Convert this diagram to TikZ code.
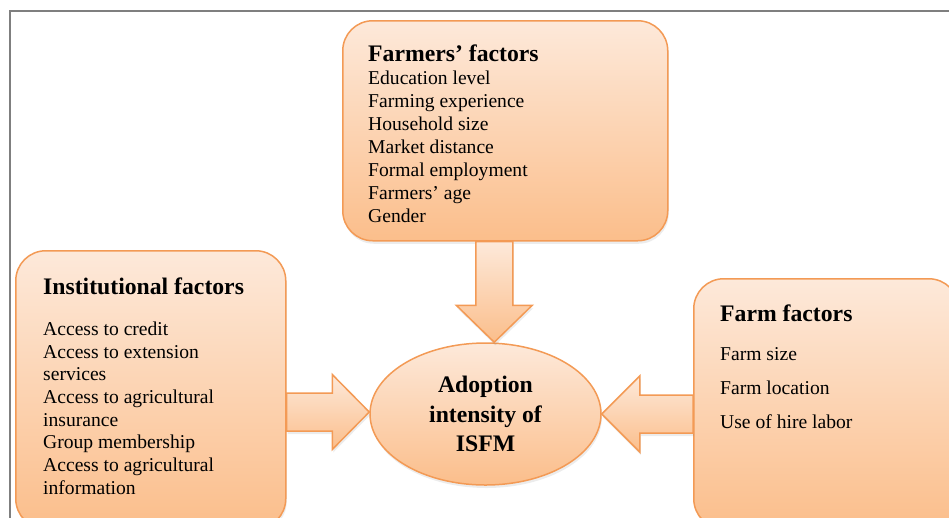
\documentclass[tikz,border=0pt]{standalone}
\usepackage{fontspec}
\setmainfont{Liberation Serif}
\usetikzlibrary{shapes.geometric,calc,shadows}

\definecolor{boxedge}{HTML}{F39A55}
\definecolor{boxtop}{HTML}{FDE9DA}
\definecolor{boxbottom}{HTML}{FBBE8B}
\definecolor{framegray}{HTML}{7F7F7F}

\newcommand{\boxtitle}[1]{{\bfseries\fontsize{23.7}{23}\selectfont #1}}

\begin{document}
\begin{tikzpicture}[x=1pt,y=-1pt,
  softshadow/.style={drop shadow={shadow xshift=1pt,shadow yshift=-3pt,opacity=0.15}},
  factorbox/.style={draw=boxedge,line width=1.5pt,rounded corners=30pt,top color=boxtop,bottom color=boxbottom,anchor=north west,inner sep=0pt,softshadow},
  listtext/.style={anchor=north west,align=left,inner sep=0pt,font=\fontsize{19.6}{23}\selectfont},
  blockarrow/.style={draw=boxedge,line width=1.5pt,line join=miter,top color=boxtop,bottom color=boxbottom,softshadow}]
\useasboundingbox (0,0) rectangle (949,517);

% Outer frame
\draw[framegray,line width=1.5pt] (10,540) -- (10,11) -- (960,11);

% Factor boxes
\node[factorbox,minimum width=325pt,minimum height=220pt] (farmers) at (342,20) {};
\node[factorbox,minimum width=270pt,minimum height=278pt] (inst) at (15,250) {};
\node[factorbox,minimum width=265pt,minimum height=250pt] (farm) at (693,278) {};

% Outcome
\node[ellipse,draw=boxedge,line width=1.5pt,top color=boxtop,bottom color=boxbottom,softshadow,
  minimum width=231pt,minimum height=142pt,align=center,
  font=\bfseries\fontsize{23.7}{29.3}\selectfont] (isfm) at (485.5,414) {Adoption\\intensity of\\ISFM};

% Box texts
\node[listtext] (farmerslist) at ($(farmers.north west)+(26,24.3)$) {\boxtitle{Farmers' factors}\\
  Education level\\Farming experience\\Household size\\Market distance\\Formal employment\\Farmers' age\\Gender};
\node[listtext,font=\fontsize{19.6}{22.7}\selectfont] (instlist) at ($(inst.north west)+(28,27.6)$) {\boxtitle{Institutional factors}\\[18.3pt]
  Access to credit\\Access to extension\\services\\Access to agricultural\\insurance\\Group membership\\Access to agricultural\\information};
\node[listtext] (farmlist) at ($(farm.north west)+(27,26.6)$) {\boxtitle{Farm factors}\\[16pt]
  Farm size\\[11pt]Farm location\\[11pt]Use of hire labor};

% Down arrow
\coordinate (downtop) at ($(farmers.south)+(-11,0)$);
\coordinate (downtip) at (downtop |- isfm.north);
\path[blockarrow] ($(downtop)+(-18.5,0)$) -- ($(downtip)+(-18.5,-37)$) -- ($(downtip)+(-38,-37)$) -- (downtip)
  -- ($(downtip)+(38,-37)$) -- ($(downtip)+(18.5,-37)$) -- ($(downtop)+(18.5,0)$) -- cycle;

% Left arrow
\coordinate (lefttip) at ($(isfm.west)+(0,-2)$);
\coordinate (leftstart) at (inst.east |- lefttip);
\path[blockarrow] ($(leftstart)+(0,-19)$) -- ($(lefttip)+(-37,-19)$) -- ($(lefttip)+(-37,-37.5)$) -- (lefttip)
  -- ($(lefttip)+(-37,37.5)$) -- ($(lefttip)+(-37,19)$) -- ($(leftstart)+(0,19)$) -- cycle;

% Right arrow
\coordinate (righttip) at (isfm.east);
\coordinate (rightstart) at (farm.west |- righttip);
\path[blockarrow] ($(rightstart)+(0,-19)$) -- ($(righttip)+(38,-19)$) -- ($(righttip)+(38,-38)$) -- (righttip)
  -- ($(righttip)+(38,38)$) -- ($(righttip)+(38,19)$) -- ($(rightstart)+(0,19)$) -- cycle;
\end{tikzpicture}
\end{document}
